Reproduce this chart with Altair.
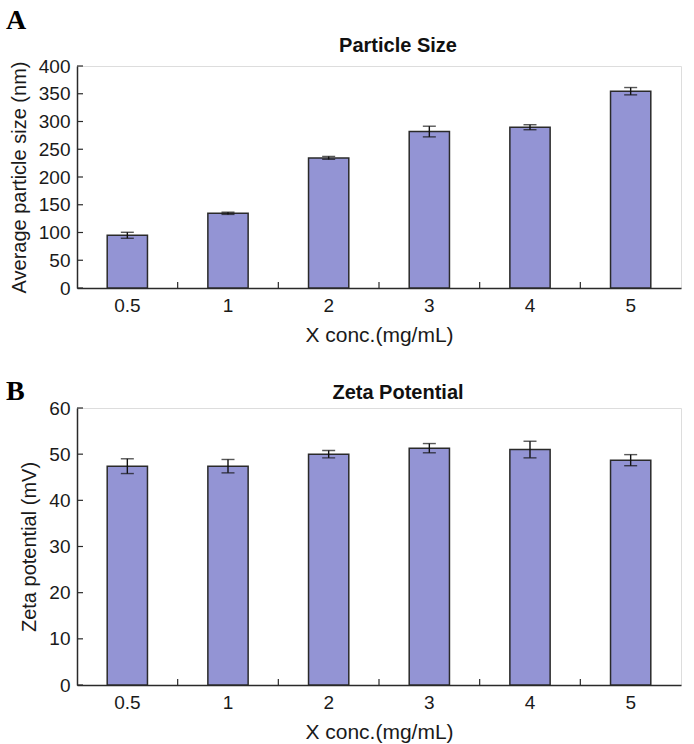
import altair as alt
import pandas as pd

categories = ["0.5", "1", "2", "3", "4", "5"]
size_mean = [95, 134.6, 234.4, 281.9, 289.7, 354.6]
size_err = [5.4, 2.0, 2.7, 9.6, 4.5, 6.6]
zeta_mean = [47.4, 47.4, 50.0, 51.3, 51.0, 48.7]
zeta_err = [1.6, 1.45, 0.8, 1.0, 1.8, 1.2]
size_ticks = [0, 50, 100, 150, 200, 250, 300, 350, 400]
zeta_ticks = [0, 10, 20, 30, 40, 50, 60]

FONT = "Liberation Sans"
BAR = "#9394d4"
EDGE = "#2a2a2a"
W = 604


def panel(means, errs, ticks, ymax, ytitle, title, letter, H, title_y, letter_y):
    df = pd.DataFrame({
        "cat": categories,
        "v": means,
        "lo": [m - e for m, e in zip(means, errs)],
        "hi": [m + e for m, e in zip(means, errs)],
    })
    xscale = alt.Scale(domain=categories, paddingInner=0, paddingOuter=0)
    yscale = alt.Scale(domain=[0, ymax], nice=False)
    xaxis = alt.Axis(labelAngle=0, ticks=False, labelPadding=8, titlePadding=9,
                     labelFontSize=19, titleFontSize=21, labelFont=FONT,
                     titleFont=FONT, titleFontWeight="normal",
                     domainColor=EDGE, domainWidth=1.5, labelOverlap=False,
                     labelColor="#1a1a1a", titleColor="#1a1a1a")
    yaxis = alt.Axis(values=ticks, ticks=False, labelPadding=7, titlePadding=9,
                     labelFontSize=19, titleFontSize=20, labelFont=FONT,
                     titleFont=FONT, titleFontWeight="normal", grid=False,
                     domainColor=EDGE, domainWidth=1.5, labelOverlap=False,
                     labelColor="#1a1a1a", titleColor="#1a1a1a")
    xt = "X conc.(mg/mL)"

    def X(f, **kw):
        return alt.X(f, scale=xscale, sort=categories, title=xt, axis=xaxis, **kw)

    def Y(f):
        return alt.Y(f, scale=yscale, title=ytitle, axis=yaxis)

    base = alt.Chart(df)
    bars = base.mark_bar(width={"band": 0.4}, fill=BAR, stroke=EDGE, strokeWidth=1.5).encode(
        x=X("cat:N"), y=Y("v:Q"))
    rule = base.mark_rule(color="#111", strokeWidth=1.4).encode(
        x=X("cat:N"), y=Y("lo:Q"), y2="hi:Q")
    cap_lo = base.mark_tick(color="#111", size=13, thickness=1.4, orient="horizontal").encode(
        x=X("cat:N"), y=Y("lo:Q"))
    cap_hi = base.mark_tick(color="#111", size=13, thickness=1.4, orient="horizontal").encode(
        x=X("cat:N"), y=Y("hi:Q"))
    # inward y ticks
    ytk = alt.Chart(pd.DataFrame({"t": ticks})).mark_rule(color=EDGE, strokeWidth=1.2).encode(
        y=Y("t:Q"), x=alt.value(0), x2=alt.value(6))
    # inward x ticks at category boundaries
    xtk = alt.Chart(pd.DataFrame({"c": categories[1:]})).mark_rule(color=EDGE, strokeWidth=1.2).encode(
        x=X("c:N", bandPosition=0), y=alt.value(H), y2=alt.value(H - 6))
    let = alt.Chart(pd.DataFrame({"l": [letter]})).mark_text(
        font="Liberation Serif", fontWeight="bold", fontSize=28, align="left",
        baseline="alphabetic", color="#000").encode(
        text="l:N", x=alt.value(-71), y=alt.value(letter_y))
    ttl = alt.Chart(pd.DataFrame({"l": [title]})).mark_text(
        font=FONT, fontWeight="bold", fontSize=20, align="center",
        baseline="alphabetic", color="#111").encode(
        text="l:N", x=alt.value(321), y=alt.value(title_y))
    return alt.layer(bars, rule, cap_lo, cap_hi, ytk, xtk, let, ttl).properties(
        width=W, height=H)


a = panel(size_mean, size_err, size_ticks, 400, "Average particle size (nm)",
          "Particle Size", "A", 222, -14, -37)
b = panel(zeta_mean, zeta_err, zeta_ticks, 60, "Zeta potential (mV)",
          "Zeta Potential", "B", 277, -9, -8)

chart = alt.vconcat(a, b, spacing=31).configure_view(stroke=None).configure_axis(
    labelOverlap=False).configure(
    padding={"left": 5, "top": 6, "right": 5, "bottom": 2}, background="white")

chart.save("out.html", embed_options={"renderer": "svg", "actions": False})
